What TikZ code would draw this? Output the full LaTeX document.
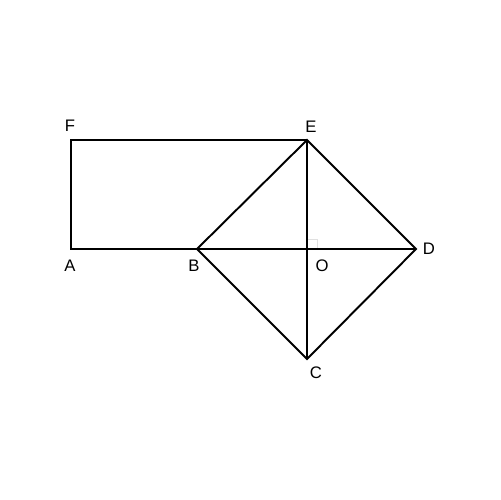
\documentclass[tikz,border=0pt]{standalone}
\usepackage{fontspec}
\setmainfont{Liberation Sans}

\begin{document}
\begin{tikzpicture}[x=0.02cm, y=-0.02cm,
    edge/.style ={line width=1.1pt, line join=miter},
    letter/.style ={inner sep=0pt, font=\fontsize{9.5}{11}\selectfont}]
   \useasboundingbox (0,0) rectangle (500,500);
   \coordinate (A) at (71,249);
   \coordinate (F) at (71,140);
   \coordinate (E) at (307,140);
   \coordinate (B) at (197,249);
   \coordinate (O) at (307,249);
   \coordinate (D) at (416,249);
   \coordinate (C) at (307,359);

   \node[letter] (lA) at (70,266) {A};
   \node[letter] (lF) at (70,126) {F};
   \node[letter] (lE) at (311,127) {E};
   \node[letter] (lB) at (194,266) {B};
   \node[letter] (lO) at (322,266) {O};
   \node[letter] (lD) at (429,249) {D};
   \node[letter] (lC) at (316,373) {C};

   \draw[black!12, line width=0.5pt] (O) ++(0,-10) -- ++(10,0) -- ++(0,10);
   \draw[edge] (B) to (A) to (F) to (E);
   \draw[edge] (E) to (D) to (C) to (B) -- cycle;
   \draw[edge] (B) to (D);
   \draw[edge] (E) to (C);
 \end{tikzpicture}
\end{document}
